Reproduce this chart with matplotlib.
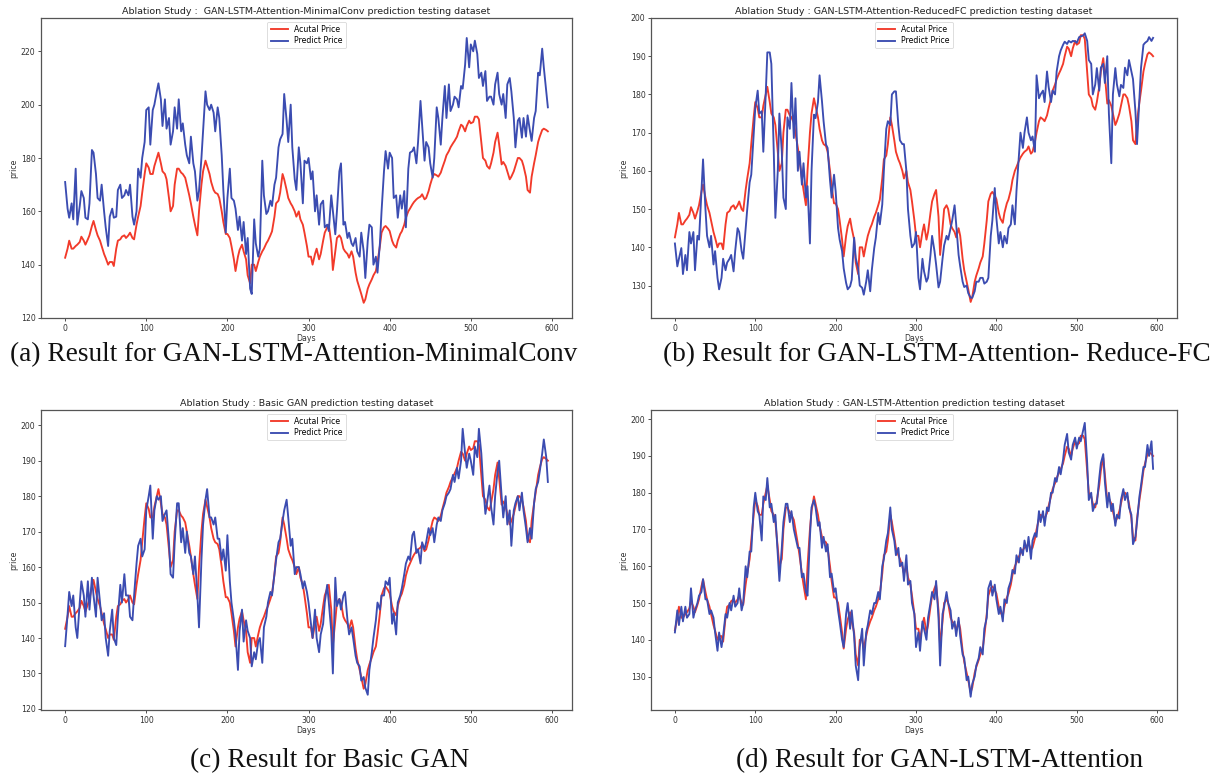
import matplotlib
matplotlib.use('Agg')
import matplotlib.pyplot as plt

# ---------------- data ----------------
days = sorted(set(range(0, 596, 5)) | set(range(3, 596, 5)))

actual = [
    142.6, 146, 149, 146, 146, 147, 147.5, 148.5, 150.5, 149, 147.5, 149.5, 151, 154.5, 156.4, 153, 151, 149, 147, 144,
    142.5, 140, 141, 141, 139.5, 146, 149, 149.5, 150.5, 151, 150, 151, 152, 150, 149.5, 155, 158, 162, 167, 174,
    178, 176.4, 174, 174, 177, 180, 182, 178, 175, 174, 172, 165, 160, 162, 170, 176, 176, 174.5, 174, 172.6,
    170, 166, 163, 158, 155, 151, 160, 170, 175, 179, 177, 174, 171, 168, 167, 166.5, 165, 160, 156, 151.5,
    151.5, 150, 147, 142, 137.6, 143, 145.5, 147.5, 145, 142, 136, 133, 140, 140, 137.6, 141, 143, 145, 146, 148,
    149, 151, 152.5, 158, 163, 164, 167, 174, 172, 168, 165, 163, 162, 160, 158, 160, 157, 155, 152, 147,
    143, 143, 140, 144, 146, 142, 144, 149, 152, 154, 155, 148, 138, 145, 150, 151, 150, 146, 145, 144,
    142.6, 145, 143, 137, 134, 131, 129, 125.7, 127, 131, 132.6, 134.5, 136, 137.6, 141, 147, 152, 154, 154.5, 153.5,
    152.6, 149, 147.5, 146.4, 149, 151.5, 152.5, 155, 157.6, 160, 161, 162.6, 163.5, 164.5, 165, 165.5, 166.4, 164.5, 165, 167.6,
    170, 173, 174, 173.5, 173, 174.5, 176.4, 179, 181, 182.6, 184, 185.5, 186.4, 188, 190, 192.5, 192, 190, 192, 194,
    193, 193.5, 195.5, 195.5, 194.5, 186, 180, 179, 177, 176, 178, 182, 186, 189.5, 185, 177.6, 178.5, 177, 175, 172,
    173, 175, 177, 180, 180, 179, 177, 173, 168, 167, 173, 178, 181, 186, 188, 190.5, 191, 190.5, 190]

pred_minimalconv = [
    171, 161, 157.6, 163, 157, 176, 155, 162, 167.6, 165, 157.6, 157, 163, 183, 182, 174, 165, 164, 170, 160,
    154, 147, 158, 161, 157.6, 158, 168, 170, 165, 166, 168, 166, 170, 158, 155, 160, 176, 172.6, 180, 186,
    198, 199, 185, 198, 200, 205, 208, 202, 192, 202, 191, 195, 185, 190, 199, 191, 202, 190, 193, 185,
    181, 178, 188, 178, 175, 164, 167.6, 180, 190, 205, 200, 198, 200, 197, 190, 199, 195, 181, 168, 152,
    165, 176, 165, 164, 161, 153, 158, 149, 156, 144, 150, 131, 129, 157, 148, 143, 146, 179, 166, 159,
    160, 164, 162, 170, 172.6, 184, 187, 189, 204, 194, 186, 200, 184, 172, 168, 184, 178, 163, 179, 178,
    180, 172, 175, 160, 166, 155, 162.6, 164, 154, 155, 152.6, 166, 160, 151.4, 160, 175, 178, 155, 156, 150,
    152, 148, 147, 150, 145, 143, 152, 145, 135, 149, 155, 154, 140, 143, 137, 148, 160, 175, 182.6, 176,
    182, 180, 165, 166, 157.6, 166, 161, 167.6, 154, 176, 182, 182.6, 184, 178, 186, 201.4, 192.6, 179, 186, 184,
    178, 172.6, 180, 199, 195, 185, 195, 207, 195, 207.6, 197.6, 200, 203, 202, 199, 207, 206, 215, 225, 214,
    222.6, 220, 224, 219, 210, 212, 207, 212.6, 201.4, 203, 203, 200, 207.6, 212, 204, 200, 204, 195, 207.6, 210,
    205, 195, 184, 194, 195, 187.6, 195, 188, 196, 190, 186.4, 195, 197.6, 212, 211, 221, 214, 205, 199]

pred_reducedfc = [
    141, 135, 137, 139.8, 133, 138, 134, 144, 141, 144, 134, 143, 142, 154.7, 163, 150, 143, 140, 143, 135.5,
    139, 132, 129, 132, 137, 134, 136, 137, 138, 133.7, 139, 145, 144, 139, 137, 145, 150, 157, 159, 169.5,
    176.5, 181, 175, 175.6, 165, 180, 191, 191, 188, 165, 147.7, 160, 175, 165, 153, 150, 174, 171, 183, 168.6,
    179, 160, 165, 156.4, 162, 153, 156, 141, 160, 174.7, 173.8, 178, 185, 178.2, 173, 166.9, 166, 157.5, 153, 159,
    154.7, 145, 142, 139, 134.5, 130.7, 129, 129.8, 131.5, 142.5, 137.2, 134.5, 130, 129.4, 127.6, 131, 134, 128.5, 134, 139.8,
    142.5, 149, 146, 151.2, 160, 171, 173, 172, 180, 180.8, 180.8, 172, 168, 167, 167, 160, 150, 143, 140, 141,
    144, 132, 129, 137, 133.7, 131, 132, 138, 143, 139, 135.5, 129.5, 131, 137, 140.5, 143, 142, 145, 147, 151,
    146, 138, 135, 131, 129.6, 130, 128, 126.8, 126.8, 128.5, 131, 131, 132, 132, 130.5, 131, 132, 143, 147, 155.5,
    147.7, 141, 144, 140, 143, 141, 145, 146, 151, 146, 154.7, 164, 170, 166, 170, 174, 170, 168, 169, 165,
    185, 179, 180, 181, 178, 186, 182, 178, 181, 180, 186, 190, 191.5, 193, 193.8, 193.2, 194, 193.6, 194, 193.9,
    193.5, 195, 195.2, 195.4, 196, 194, 189, 188, 180, 182.6, 186.9, 181, 187, 188, 183, 190, 175, 162, 180, 186.9,
    182.6, 179.5, 182.5, 181.7, 187, 185, 189, 186, 184, 175.6, 167, 179, 187, 193, 193.5, 194, 195, 194, 194.8]

pred_basic_gan = [
    137.7, 146.6, 153, 149, 152, 143, 140, 150, 156, 152, 146, 156, 148, 157, 152, 146, 157, 150, 145, 147,
    140, 135, 142, 148, 140, 138, 146, 155, 150, 158, 152, 152, 146, 145, 152, 161, 166, 168, 163, 165,
    176, 180, 183, 168, 176, 180, 179, 180, 173, 175, 176, 167, 158, 157, 167, 178, 178, 167, 171, 164,
    170, 164, 163, 158, 163, 152, 143, 162, 172, 179, 182, 174, 174, 172, 174, 168, 168, 162, 165, 159,
    169, 156, 150, 145, 141, 131, 142, 148, 139, 145, 142, 140, 132, 136, 134, 139, 140, 133, 143, 146,
    150, 153, 152, 158, 162, 167, 168, 173, 176, 179, 174, 166, 168, 158, 160, 160, 158, 154, 156, 153,
    150, 144, 140, 148, 140, 136, 141, 144, 150, 155, 150, 142, 130, 157, 149, 151, 148, 152, 153, 145,
    141, 143, 140, 135, 133, 132, 128, 129, 126, 124, 131, 136, 140, 145, 150, 148, 152, 152, 156, 155,
    157, 144, 147, 141, 150, 152, 154, 158, 161, 163, 162, 169, 170, 164, 165, 161, 167, 165, 167, 171,
    169, 171, 167, 172, 174, 173, 176, 178, 180, 181, 182, 186, 184, 188, 185, 190, 199, 192, 188, 192,
    190, 186, 194, 191, 199, 192, 184, 175, 178, 183, 177, 172, 180, 187, 190, 180, 174, 180, 172, 176,
    166, 176, 178, 180, 176, 181, 176, 171, 167, 171, 168, 178, 182, 184, 187, 192, 196, 191, 184]

pred_lstm_attention = [
    142, 148, 144, 149, 145, 149, 146, 147, 154, 146, 148, 150, 152, 153, 156.5, 151, 151, 147, 148, 146,
    142, 137, 142, 138, 141, 147, 146, 150, 148, 152, 149, 150, 154, 148, 150, 160, 157, 164, 164, 176,
    180, 175, 174, 167, 179, 178, 184, 176, 177, 172, 174, 163, 156, 165, 172, 177, 177, 172, 175, 170,
    168, 165, 165, 157, 158, 153, 152, 168, 176, 178, 176, 171, 172, 165, 168, 164, 166, 157, 158, 153,
    154, 148, 145, 140, 138, 147, 150, 143, 148, 141, 133, 129, 138, 143, 133, 142, 144, 148, 147, 150,
    150, 153, 151, 160, 162, 167, 169, 176, 170, 167, 163, 165, 160, 161, 156, 163, 155, 156, 150, 147,
    138, 142, 137, 145, 143, 140, 146, 150, 153, 151, 156, 146, 133, 147, 149, 153, 150, 148, 143, 145,
    141, 146, 141, 136, 135, 129, 130, 124.5, 128, 130, 133, 135, 138, 136, 143, 146, 154, 156, 152, 155,
    151, 147, 149, 145, 151, 150, 154, 156, 159, 158, 163, 161, 165, 163, 167, 164, 168, 162, 167, 169,
    168, 175, 172, 175, 171, 176, 175, 180, 180, 184, 183, 187, 185, 189, 193, 196, 191, 189, 193, 195,
    192, 195, 194, 197, 199, 188, 178, 180, 175, 177, 177, 184, 188, 190.5, 183, 176, 180, 175, 177, 171,
    174, 173, 178, 181, 178, 180, 176, 174, 166, 168, 172, 179, 182, 187, 187, 193, 190, 194, 186.5]

titles = [
    'Ablation Study :  GAN-LSTM-Attention-MinimalConv prediction testing dataset',
    'Ablation Study : GAN-LSTM-Attention-ReducedFC prediction testing dataset',
    'Ablation Study : Basic GAN prediction testing dataset',
    'Ablation Study : GAN-LSTM-Attention prediction testing dataset',
]
captions = [
    '(a) Result for GAN-LSTM-Attention-MinimalConv',
    '(b) Result for GAN-LSTM-Attention- Reduce-FC',
    '(c) Result for Basic GAN',
    '(d) Result for GAN-LSTM-Attention',
]
predictions = [pred_minimalconv, pred_reducedfc, pred_basic_gan, pred_lstm_attention]
ytick_sets = [list(range(120, 221, 20)), list(range(130, 201, 10)),
              list(range(120, 201, 10)), list(range(130, 201, 10))]
legend_labels = ['Acutal Price', 'Predict Price']

# ---------------- layout / style ----------------
W, H = 1226, 778
RED = '#f23a2a'
BLUE = '#3b4cb1'

def rect(l, t, r, b):
    return [l / W, 1 - b / H, (r - l) / W, (b - t) / H]

rects = [rect(41, 18, 572, 318), rect(651, 18, 1177, 318),
         rect(41, 410, 572, 710), rect(651, 410, 1177, 710)]
ylims = [(120, 232.5), (121.5, 200), (119.7, 204.3), (120.9, 202.5)]
cap_pos = [(294, 355), (937, 355), (330, 761), (939, 761)]

fig = plt.figure(figsize=(W / 100, H / 100), dpi=100)

for i in range(4):
    ax = fig.add_axes(rects[i])
    pred = predictions[i]
    ax.plot(days[:len(actual)], actual, color=RED, lw=1.35, label=legend_labels[0])
    ax.plot(days[:len(pred)], pred, color=BLUE, lw=1.35, label=legend_labels[1])
    ax.set_xlim(-29.75, 624.75)
    ax.set_ylim(*ylims[i])
    ax.set_yticks(ytick_sets[i])
    ax.set_xticks([0, 100, 200, 300, 400, 500, 600])
    ax.tick_params(labelsize=5.6, length=2.5, width=0.6, pad=1.5, colors='#333333')
    for s in ax.spines.values():
        s.set_color('#555555')
        s.set_linewidth(0.9)
    ax.set_title(titles[i], fontsize=6.8, pad=3, color='#222222')
    ax.set_xlabel('Days', fontsize=5.6, labelpad=1, color='#333333')
    ax.set_ylabel('price', fontsize=5.6, labelpad=2, color='#333333')
    leg = ax.legend(loc='upper center', fontsize=5.6, handlelength=2.2,
                    borderpad=0.4, labelspacing=0.3, framealpha=0.9)
    leg.get_frame().set_linewidth(0.5)
    cx, cy = cap_pos[i]
    fig.text(cx / W, 1 - cy / H, captions[i], ha='center', va='center',
             fontsize=19.6, family='Liberation Serif', color='#111111')

fig.savefig('out.png', dpi=100)
